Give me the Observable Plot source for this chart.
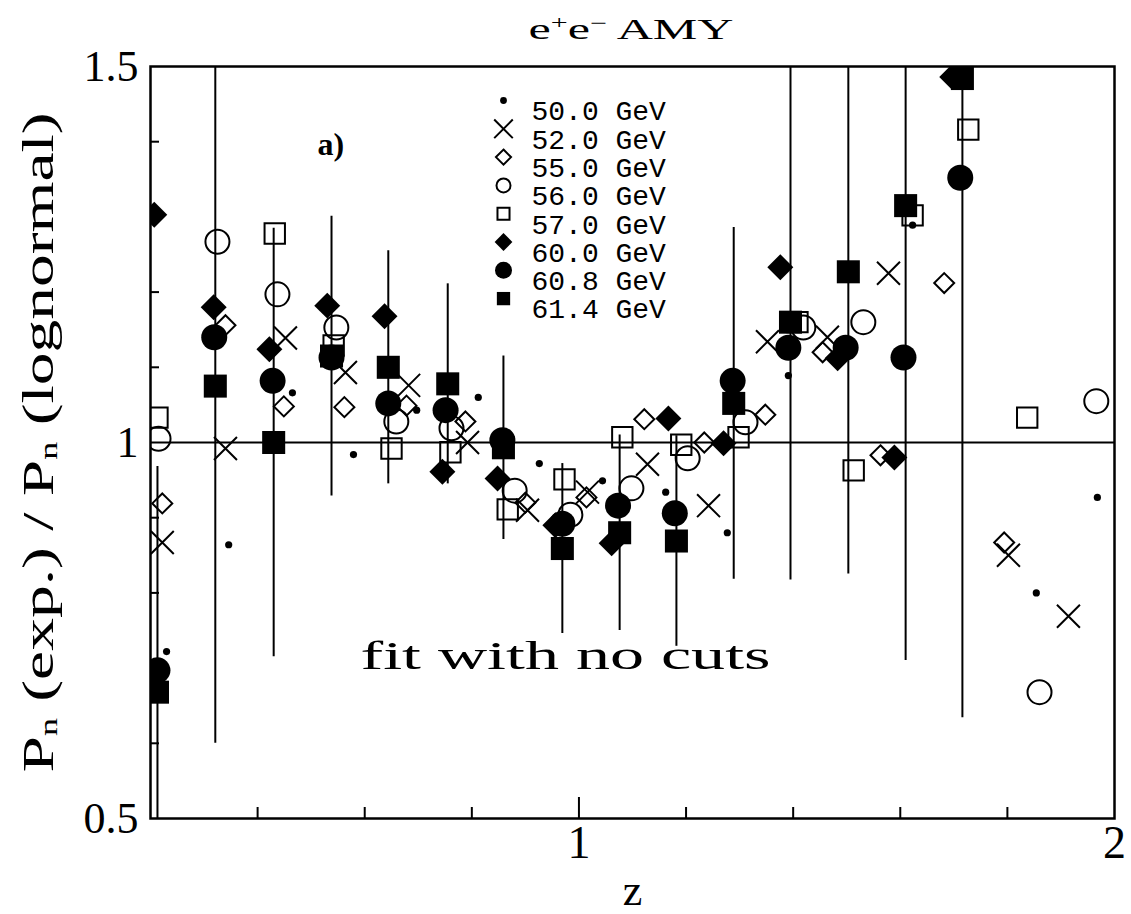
<!DOCTYPE html>
<html>
<head>
<meta charset="utf-8">
<script src="https://cdn.jsdelivr.net/npm/d3@7"></script>
<script src="https://cdn.jsdelivr.net/npm/@observablehq/plot@0.6"></script>
<style>
  body { margin: 0; background: #fff; }
  svg { display: block; }
</style>
</head>
<body>
<div id="chart"></div>
<script>
// ---------------- data ----------------
const energies = ["50.0 GeV", "52.0 GeV", "55.0 GeV", "56.0 GeV", "57.0 GeV", "60.0 GeV", "60.8 GeV", "61.4 GeV"];

const z_500 = [0.230, 0.346, 0.465, 0.579, 0.697, 0.812, 0.926, 1.044, 1.162, 1.277, 1.391, 1.623, 1.854, 1.968];
const r_500 = [0.722, 0.864, 1.066, 0.984, 1.043, 1.060, 0.972, 0.949, 0.934, 0.880, 1.089, 1.289, 0.800, 0.927];

const z_520 = [0.222, 0.340, 0.452, 0.564, 0.682, 0.792, 0.904, 1.016, 1.128, 1.242, 1.352, 1.464, 1.578, 1.802, 1.914];
const r_520 = [0.867, 0.992, 1.139, 1.093, 1.076, 1.000, 0.910, 0.934, 0.971, 0.916, 1.134, 1.140, 1.225, 0.850, 0.769];

const z_550 = [0.222, 0.340, 0.449, 0.562, 0.678, 0.788, 0.900, 1.014, 1.122, 1.234, 1.348, 1.455, 1.563, 1.682, 1.794];
const r_550 = [0.919, 1.156, 1.048, 1.047, 1.049, 1.028, 0.920, 0.927, 1.031, 1.000, 1.037, 1.120, 0.983, 1.212, 0.867];

const z_560 = [0.215, 0.325, 0.437, 0.547, 0.659, 0.762, 0.880, 0.984, 1.098, 1.203, 1.311, 1.419, 1.531, 1.860, 1.966];
const r_560 = [1.005, 1.267, 1.197, 1.153, 1.028, 1.019, 0.936, 0.904, 0.939, 0.979, 1.027, 1.153, 1.160, 0.668, 1.055];

const z_570 = [0.213, 0.432, 0.542, 0.650, 0.760, 0.867, 0.973, 1.081, 1.191, 1.298, 1.408, 1.513, 1.623, 1.727, 1.837];
const r_570 = [1.033, 1.278, 1.129, 0.992, 0.987, 0.911, 0.951, 1.007, 0.997, 1.007, 1.160, 0.963, 1.302, 1.416, 1.033];

const z_600 = [0.207, 0.318, 0.422, 0.530, 0.637, 0.745, 0.848, 0.956, 1.061, 1.167, 1.270, 1.376, 1.483, 1.589, 1.697];
const r_600 = [1.303, 1.180, 1.124, 1.182, 1.168, 0.961, 0.952, 0.890, 0.866, 1.032, 0.999, 1.233, 1.112, 0.980, 1.486];

const z_608 = [0.213, 0.319, 0.428, 0.538, 0.644, 0.751, 0.857, 0.969, 1.073, 1.179, 1.287, 1.391, 1.498, 1.606, 1.712];
const r_608 = [0.697, 1.140, 1.082, 1.113, 1.052, 1.043, 1.003, 0.892, 0.916, 0.906, 1.082, 1.126, 1.126, 1.113, 1.352];

const z_614 = [0.213, 0.321, 0.430, 0.538, 0.644, 0.755, 0.859, 0.969, 1.076, 1.182, 1.289, 1.395, 1.503, 1.610, 1.716];
const r_614 = [0.668, 1.075, 1.000, 1.115, 1.100, 1.078, 0.993, 0.859, 0.880, 0.869, 1.052, 1.160, 1.227, 1.315, 1.484];
const e_614 = [0.300, 0.475, 0.285, 0.186, 0.155, 0.133, 0.122, 0.113, 0.130, 0.140, 0.234, 0.343, 0.402, 0.605, 0.850];

// axis ticks and labels
const xDomain = [0.2, 2];
const yDomain = [0.5, 1.5];
const xLabelTicks = [1, 2];
const xMinorTicks = [0.4, 0.6, 0.8, 1.2, 1.4, 1.6, 1.8];
const xMajorTicks = [1];
const yLabelTicks = [0.5, 1, 1.5];
const yMinorTicks = [0.6, 0.7, 0.8, 0.9, 1.1, 1.2, 1.3, 1.4];
const titleText = "e+e- AMY";
const xLabel = "z";
const yLabel = "Pn (exp.) / Pn (lognormal)";
const panelLabel = "a)";
const noteText = "fit with no cuts";

// ---------------- build tables ----------------
const rows = (z, v, e) => z.map((zi, i) => ({z: zi, v: v[i], e: e ? e[i] : 0}));
const seriesData = [
  rows(z_500, r_500), rows(z_520, r_520), rows(z_550, r_550), rows(z_560, r_560),
  rows(z_570, r_570), rows(z_600, r_600), rows(z_608, r_608), rows(z_614, r_614, e_614)
];

// styles (kept apart from data)
const styles = [
  {symbol: "circle",   fill: "black", stroke: "none",  r: 3.6, lr: 3.4},
  {symbol: "times",    fill: "none",  stroke: "black", r: 10.5, lr: 8.5},
  {symbol: "diamond2", fill: "none",  stroke: "black", r: 9,   lr: 6.8},
  {symbol: "circle",   fill: "none",  stroke: "black", r: 12,  lr: 7},
  {symbol: "square",   fill: "none",  stroke: "black", r: 11.5, lr: 6.8},
  {symbol: "diamond2", fill: "black", stroke: "none",  r: 11.7, lr: 8},
  {symbol: "circle",   fill: "black", stroke: "none",  r: 13,  lr: 8.5},
  {symbol: "square",   fill: "black", stroke: "none",  r: 13,  lr: 7.5}
];

const serif = "'Liberation Serif', 'DejaVu Serif', serif";
const mono = "'Liberation Mono', 'DejaVu Sans Mono', monospace";

const marks = [];

// reference line at 1
marks.push(Plot.ruleY([1], {strokeWidth: 2}));

// inward ticks
marks.push(Plot.ruleX(xMinorTicks, {x: d => d, y1: () => yDomain[0], y2: () => yDomain[0], insetTop: -11, strokeWidth: 2}));
marks.push(Plot.ruleX(xMajorTicks, {x: d => d, y1: () => yDomain[0], y2: () => yDomain[0], insetTop: -21, strokeWidth: 2}));
marks.push(Plot.ruleY(yMinorTicks, {y: d => d, x1: () => xDomain[0], x2: () => xDomain[0], insetRight: -9, strokeWidth: 2}));

// error bars (61.4 GeV)
marks.push(Plot.ruleX(seriesData[7], {x: "z", y1: d => d.v - d.e, y2: d => d.v + d.e, strokeWidth: 2, clip: true}));

// data points
seriesData.forEach((data, i) => {
  const s = styles[i];
  marks.push(Plot.dot(data, {
    x: "z", y: "v", symbol: s.symbol, r: s.r,
    fill: s.fill, stroke: s.stroke, strokeWidth: s.stroke === "none" ? 0 : 2,
    clip: true
  }));
});

// frame
marks.push(Plot.frame({strokeWidth: 2.5}));

// axes (labels only)
marks.push(Plot.axisX(xLabelTicks, {tickSize: 0, tickPadding: 7, fontSize: 46, fontFamily: serif, tickFormat: d => String(d), label: null}));
marks.push(Plot.axisY(yLabelTicks, {tickSize: 0, tickPadding: 12, fontSize: 44, fontFamily: serif, tickFormat: d => String(d), label: null}));

// axis titles and annotations
marks.push(Plot.text([xLabel], {text: d => d, frameAnchor: "bottom", dy: 86, lineAnchor: "bottom", fontSize: 44, fontFamily: serif, ariaDescription: "xlabel"}));
marks.push(Plot.text([yLabel], {text: d => d, frameAnchor: "left", dx: -98, dy: 330, rotate: -90, textAnchor: "start", lineAnchor: "bottom", fontSize: 45, fontFamily: serif, ariaDescription: "ylabel"}));
marks.push(Plot.text([titleText], {text: d => d, frameAnchor: "top", dx: -104, dy: -28, textAnchor: "start", lineAnchor: "bottom", fontSize: 30, fontFamily: serif, ariaDescription: "title"}));
marks.push(Plot.text([panelLabel], {text: d => d, frameAnchor: "top-left", dx: 167, dy: 88, textAnchor: "start", lineAnchor: "bottom", fontSize: 32, fontWeight: "bold", fontFamily: serif, ariaDescription: "panel"}));
marks.push(Plot.text([noteText], {text: d => d, frameAnchor: "top-left", dx: 210, dy: 602, textAnchor: "start", lineAnchor: "bottom", fontSize: 40, fontFamily: serif, ariaDescription: "note"}));

// legend inside the frame
energies.forEach((name, i) => {
  const s = styles[i];
  const dy = 34 + 28.3 * i;
  marks.push(Plot.dot([name], {
    frameAnchor: "top-left", dx: 353, dy, symbol: s.symbol, r: s.lr,
    fill: s.fill, stroke: s.stroke, strokeWidth: s.stroke === "none" ? 0 : 2
  }));
  marks.push(Plot.text([name], {
    text: d => d, frameAnchor: "top-left", dx: 381, dy, textAnchor: "start",
    fontSize: 28, fontFamily: mono
  }));
});

const svg = Plot.plot({
  width: 1131,
  height: 914,
  marginLeft: 150,
  marginRight: 17,
  marginTop: 66,
  marginBottom: 96,
  style: {background: "#fff", color: "#000", fontFamily: serif, overflow: "visible"},
  x: {domain: xDomain, label: null},
  y: {domain: yDomain, label: null},
  marks
});
document.getElementById("chart").append(svg);

// ---------------- rich text post-processing ----------------
const sel = d3.select(svg);
function rich(label, parts, len) {
  const t = sel.select(`g[aria-description="${label}"] text`);
  if (t.empty()) return;
  t.text(null);
  for (const p of parts) {
    const ts = t.append("tspan").text(p.t);
    if (p.sub) ts.attr("font-size", "55%").attr("baseline-shift", "-15%");
    if (p.sup) ts.attr("font-size", "60%").attr("baseline-shift", "55%");
  }
  if (len) t.attr("textLength", len).attr("lengthAdjust", "spacingAndGlyphs");
}
rich("ylabel", [{t: "P"}, {t: "n", sub: true}, {t: " (exp.) / P"}, {t: "n", sub: true}, {t: " (lognormal)"}], 660);
rich("title", [{t: "e"}, {t: "+", sup: true}, {t: "e"}, {t: "\u2212", sup: true}, {t: " AMY"}], 205);
rich("note", [{t: noteText}], 410);
</script>
</body>
</html>
